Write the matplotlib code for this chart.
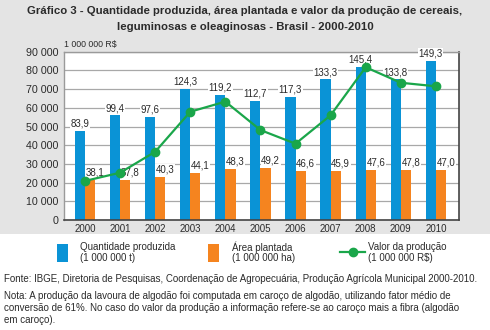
import matplotlib
matplotlib.use('Agg')
import matplotlib.pyplot as plt
import numpy as np
from matplotlib.patches import Rectangle
from matplotlib.lines import Line2D

plt.rcParams['font.family'] = ['Liberation Sans', 'DejaVu Sans']

# data
years = ['2000', '2001', '2002', '2003', '2004', '2005', '2006', '2007', '2008', '2009', '2010']
qtd_bar = [47600, 56000, 55100, 70200, 66800, 63600, 65900, 75200, 81800, 75200, 85000]
area_bar = [21400, 21400, 23000, 25100, 27300, 27800, 26200, 26200, 26700, 26700, 26700]
valor = [20900, 25300, 36500, 57900, 63300, 48100, 40800, 56000, 81700, 73400, 71500]
qtd_labels = ['83,9', '99,4', '97,6', '124,3', '119,2', '112,7', '117,3', '133,3', '145,4', '133,8', '149,3']
area_labels = ['38,1', '37,8', '40,3', '44,1', '48,3', '49,2', '46,6', '45,9', '47,6', '47,8', '47,0']
yticks = [0, 10000, 20000, 30000, 40000, 50000, 60000, 70000, 80000, 90000]
ytick_labels = ['0', '10 000', '20 000', '30 000', '40 000', '50 000', '60 000', '70 000', '80 000', '90 000']

BLUE = '#0a93d6'
ORANGE = '#f5841f'
GREEN = '#1aa64a'
TXT = '#2b2b2b'

W, H = 490, 330
fig = plt.figure(figsize=(W / 100, H / 100), dpi=100)
fig.patch.set_facecolor('white')

# gray panel behind title and chart
fig.patches.append(Rectangle((0, (H - 234) / H), 1, 234 / H, transform=fig.transFigure,
                             facecolor='#e4e4e4', edgecolor='none', zorder=-10))

fig.text(0.5, 1 - 11 / H, 'Gráfico 3 - Quantidade produzida, área plantada e valor da produção de cereais,',
         ha='center', va='center', fontsize=8.2, fontweight='bold', color=TXT)
fig.text(0.5, 1 - 27 / H, 'leguminosas e oleaginosas - Brasil - 2000-2010',
         ha='center', va='center', fontsize=8.2, fontweight='bold', color=TXT)
fig.text(64 / W, 1 - 45 / H, '1 000 000 R$', ha='left', va='center', fontsize=6.3, color=TXT)

ax = fig.add_axes([64 / W, (H - 220) / H, (459 - 64) / W, (220 - 51.7) / H])
ax.set_zorder(2)
ax.set_facecolor('white')
x = np.arange(len(years))
bw = 0.29
ax.bar(x - bw / 2, qtd_bar, width=bw, color=BLUE, zorder=2)
ax.bar(x + bw / 2, area_bar, width=bw, color=ORANGE, zorder=2)
ax.plot(x, valor, color=GREEN, lw=1.6, marker='o', ms=6, zorder=4)

lbl_box = dict(facecolor='white', edgecolor='none', pad=0.4)
for i in range(len(years)):
    ax.text(x[i] - bw / 2, qtd_bar[i] + 1200, qtd_labels[i], ha='center', va='bottom',
            fontsize=7, color=TXT, bbox=lbl_box, zorder=3)
    ax.text(x[i] + 0.02, area_bar[i] + 1200, area_labels[i], ha='left', va='bottom',
            fontsize=7, color=TXT, bbox=lbl_box, zorder=3)

ax.set_xlim(-0.6, 10.66)
ax.set_ylim(0, 90000)
ax.set_yticks(yticks)
ax.set_yticklabels(ytick_labels)
ax.set_xticks(x)
ax.set_xticklabels(years)
ax.tick_params(axis='both', labelsize=7, colors=TXT, length=0, pad=3)
ax.tick_params(axis='y', pad=4, labelsize=7.7)
ax.yaxis.grid(True, color='#a8a8a8', lw=0.9, zorder=1)
ax.set_axisbelow(True)
for s in ['left', 'top']:
    ax.spines[s].set_color('#9a9a9a')
    ax.spines[s].set_linewidth(1)
for s in ['right', 'bottom']:
    ax.spines[s].set_color('#444444')
    ax.spines[s].set_linewidth(1.2)

# legend
fs = 7
fig.patches.append(Rectangle((57 / W, 1 - 262 / H), 11 / W, 18 / H, transform=fig.transFigure,
                             facecolor=BLUE, edgecolor='none'))
fig.text(80 / W, 1 - 247 / H, 'Quantidade produzida', fontsize=fs, color=TXT, va='center')
fig.text(80 / W, 1 - 258 / H, '(1 000 000 t)', fontsize=fs, color=TXT, va='center')
fig.patches.append(Rectangle((208 / W, 1 - 262 / H), 11 / W, 18 / H, transform=fig.transFigure,
                             facecolor=ORANGE, edgecolor='none'))
fig.text(232 / W, 1 - 247 / H, 'Área plantada', fontsize=fs, color=TXT, va='center')
fig.text(232 / W, 1 - 258 / H, '(1 000 000 ha)', fontsize=fs, color=TXT, va='center')
fig.lines.append(Line2D([340 / W, 365 / W], [1 - 252 / H, 1 - 252 / H], transform=fig.transFigure,
                        color=GREEN, lw=1.6))
fig.lines.append(Line2D([352.5 / W], [1 - 252 / H], transform=fig.transFigure,
                        color=GREEN, marker='o', ms=6))
fig.text(368 / W, 1 - 247 / H, 'Valor da produção', fontsize=fs, color=TXT, va='center')
fig.text(368 / W, 1 - 258 / H, '(1 000 000 R$)', fontsize=fs, color=TXT, va='center')

# source and note
nfs = 7
fig.text(4 / W, 1 - 279 / H,
         'Fonte: IBGE, Diretoria de Pesquisas, Coordenação de Agropecuária, Produção Agrícola Municipal 2000-2010.',
         fontsize=nfs, color=TXT, va='center')
fig.text(4 / W, 1 - 296 / H,
         'Nota: A produção da lavoura de algodão foi computada em caroço de algodão, utilizando fator médio de',
         fontsize=nfs, color=TXT, va='center')
fig.text(4 / W, 1 - 308 / H,
         'conversão de 61%. No caso do valor da produção a informação refere-se ao caroço mais a fibra (algodão',
         fontsize=nfs, color=TXT, va='center')
fig.text(4 / W, 1 - 320 / H, 'em caroço).', fontsize=nfs, color=TXT, va='center')

fig.savefig('out.png', dpi=100)
